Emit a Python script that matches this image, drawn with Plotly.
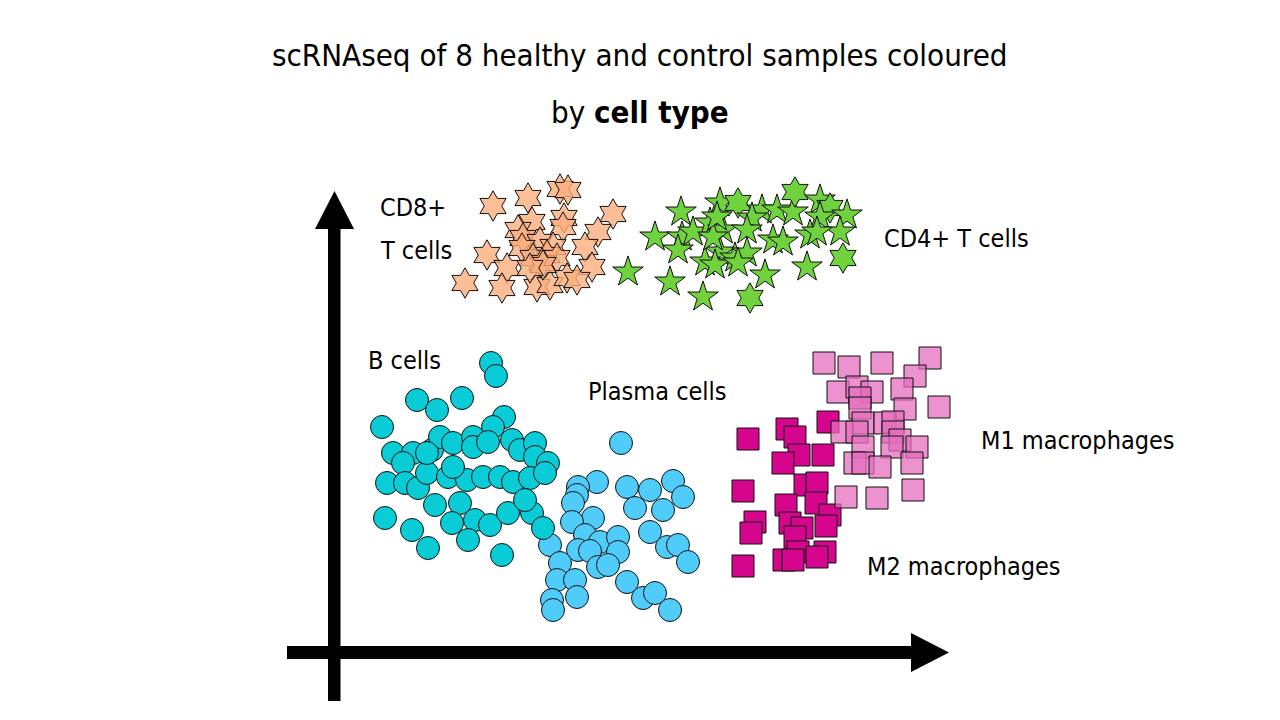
import plotly.graph_objects as go

# ---- data (embedding coordinates, arbitrary units) ----
cd8_x = [15.9, 19.4, 22.6, 23.4, 27.9, 23.0, 22.9, 19.8, 18.4, 18.9, 26.4, 20.6, 15.3, 18.8, 21.9,
         21.3, 19.9, 20.8, 22.3, 25.1, 25.8, 17.3, 13.1, 16.8, 20.3, 21.6, 23.3, 24.3, 20.9, 19.6]
cd8_y = [44.6, 45.4, 46.3, 46.2, 43.8, 43.4, 42.5, 43.0, 42.2, 41.4, 42.0, 41.0, 39.7, 40.4, 40.5,
         39.7, 39.4, 38.9, 39.4, 40.5, 38.5, 38.4, 36.9, 36.4, 36.5, 36.7, 37.4, 37.2, 38.7, 38.4]

cd4_x = [34.7, 32.1, 29.4, 33.6, 36.9, 41.6, 34.8, 34.4, 35.9, 37.6, 38.9, 38.6, 40.4, 42.8, 41.8,
         41.3, 44.3, 45.9, 46.1, 48.6, 49.6, 48.6, 51.3, 50.6, 47.6, 48.3, 43.9, 44.9, 38.6, 40.1,
         41.3, 37.1, 38.1, 40.4, 47.3, 43.1, 50.9, 37.9, 38.3]
cd4_y = [44.0, 41.5, 38.0, 37.0, 35.5, 35.4, 41.5, 40.2, 42.0, 42.9, 42.2, 44.9, 44.9, 44.2, 43.4,
         42.2, 44.2, 44.0, 46.0, 45.2, 44.4, 43.5, 43.7, 42.0, 41.7, 42.0, 41.2, 41.0, 40.0, 39.4,
         39.9, 39.0, 38.7, 38.9, 38.5, 37.7, 39.4, 41.5, 43.5]
cd4_shape = ["star"] * 5 + ["hexagram"] + ["star"] * 6 + ["hexagram"] + ["star"] * 5 + ["hexagram", "star", "hexagram"] + \
            ["star"] * 15 + ["hexagram", "star", "star"]

b_x = [15.7, 16.2, 8.3, 10.3, 12.8, 4.8, 17.0, 15.9, 5.9, 7.9, 9.8, 10.6, 11.9, 13.9, 13.9, 15.4, 17.8,
       18.6, 20.1, 20.1, 21.4, 6.9, 5.3, 7.1, 8.4, 9.3, 11.4, 13.3, 14.9, 16.6, 17.9, 19.6, 21.1, 11.9,
       10.1, 12.6, 5.1, 7.8, 9.4, 11.8, 14.1, 15.6, 17.4, 19.8, 13.4, 16.8, 20.9, 19.1, 9.3]
b_y = [28.9, 27.6, 25.2, 24.2, 25.4, 22.5, 23.5, 22.5, 19.9, 19.9, 20.2, 21.5, 20.9, 21.5, 20.5, 21.0, 21.2,
       20.2, 20.9, 19.5, 18.9, 18.9, 16.9, 16.9, 16.4, 17.9, 17.5, 17.2, 17.5, 17.5, 17.0, 17.4, 17.9, 18.5,
       14.7, 14.9, 13.4, 12.2, 10.4, 12.9, 13.2, 12.7, 13.9, 13.9, 11.2, 9.7, 12.4, 15.2, 19.9]

plasma_x = [28.7, 26.3, 24.4, 29.3, 31.6, 33.9, 34.9, 24.3, 23.9, 30.1, 32.9, 25.9, 23.8, 31.6, 25.1,
            26.6, 28.4, 24.4, 25.6, 28.4, 33.3, 34.4, 35.4, 21.6, 22.6, 26.4, 27.4, 29.3, 22.3, 24.1,
            24.3, 21.8, 21.9, 30.9, 32.1, 33.6]
plasma_y = [20.9, 17.0, 16.5, 16.5, 16.2, 17.1, 15.5, 15.7, 14.9, 14.4, 14.2, 13.4, 13.0, 12.0, 11.7,
            11.0, 11.5, 10.2, 10.1, 10.0, 10.5, 10.7, 9.0, 10.7, 8.9, 8.5, 8.7, 7.0, 7.2, 7.2,
            5.5, 5.2, 4.2, 5.4, 5.9, 4.2]

m2_x = [41.4, 45.3, 46.1, 49.4, 46.5, 44.9, 48.9, 40.9, 47.1, 48.3, 45.2, 48.2, 49.6, 42.1, 41.7,
        45.6, 46.8, 49.2, 46.1, 40.9, 45.0, 46.4, 49.1, 48.3, 45.9]
m2_y = [21.3, 22.3, 21.5, 23.0, 19.7, 18.9, 19.7, 16.1, 16.7, 16.9, 14.7, 14.9, 13.7, 13.0, 11.9,
        12.9, 12.4, 12.6, 11.5, 8.6, 9.2, 10.0, 10.0, 9.5, 9.2]

m1_x = [49.0, 51.5, 54.8, 59.6, 58.1, 50.4, 52.3, 53.8, 56.8, 52.6, 57.1, 60.5, 52.6, 52.9, 55.1,
        55.9, 50.8, 52.3, 55.9, 56.6, 58.3, 52.9, 55.8, 52.1, 52.9, 54.6, 57.8, 51.2, 54.3, 57.9]
m1_y = [28.9, 28.5, 28.9, 29.4, 27.6, 26.0, 26.5, 26.0, 26.3, 25.4, 24.3, 24.5, 24.4, 22.9, 22.9,
        23.0, 22.0, 22.0, 22.0, 21.2, 20.5, 20.5, 20.5, 18.9, 18.9, 18.5, 18.9, 15.5, 15.4, 16.2]

labels = ["CD8+", "T cells", "CD4+ T cells", "B cells", "Plasma cells", "M1 macrophages", "M2 macrophages"]
label_x = [4.4, 4.4, 54.8, 3.2, 25.2, 64.5, 53.1]
label_y = [44.5, 40.2, 41.4, 29.2, 26.1, 21.2, 8.6]

title_line1 = "scRNAseq of 8 healthy and control samples coloured"
title_line2 = "by <b>cell type</b>"

FONT = "DejaVu Sans Condensed, Liberation Sans Narrow, sans-serif"

# page has an 8px body margin: compensate so the picture lands where intended
OFF = 8
W, H = 1280, 720
x0_px, y0_px = 334 - OFF, 652 - OFF   # pixel position of the data origin within the figure
SCALE = 10.0                           # pixels per data unit

fig = go.Figure()
line = dict(color="#111111", width=1)
fig.add_trace(go.Scatter(x=plasma_x, y=plasma_y, mode="markers", name="Plasma cells",
                         marker=dict(symbol="circle", size=23, color="#4FCCFA", line=line)))
fig.add_trace(go.Scatter(x=b_x, y=b_y, mode="markers", name="B cells",
                         marker=dict(symbol="circle", size=23, color="#0ACCD6", line=line)))
fig.add_trace(go.Scatter(x=m2_x, y=m2_y, mode="markers", name="M2 macrophages",
                         marker=dict(symbol="square", size=22, color="#D5058E", line=line)))
fig.add_trace(go.Scatter(x=m1_x, y=m1_y, mode="markers", name="M1 macrophages",
                         marker=dict(symbol="square", size=22, color="rgba(230,110,190,0.75)", line=line)))
fig.add_trace(go.Scatter(x=cd8_x, y=cd8_y, mode="markers", name="CD8+ T cells",
                         marker=dict(symbol="hexagram", size=23, color="rgba(251,174,124,0.8)", line=line)))
fig.add_trace(go.Scatter(x=cd4_x, y=cd4_y, mode="markers", name="CD4+ T cells",
                         marker=dict(symbol=cd4_shape, size=23, color="#70D33E", line=line)))

for t, x, y in zip(labels, label_x, label_y):
    fig.add_annotation(x=x, y=y, text=t, showarrow=False, xanchor="left", yanchor="middle",
                       align="left", font=dict(family=FONT, size=25, color="#000000"))

fig.add_annotation(x=(640 - OFF) / W, y=1 - (55 - OFF) / H, xref="paper", yref="paper", text=title_line1,
                   showarrow=False, xanchor="center", yanchor="middle",
                   font=dict(family=FONT, size=31, color="#000000"))
fig.add_annotation(x=(640 - OFF) / W, y=1 - (112 - OFF) / H, xref="paper", yref="paper", text=title_line2,
                   showarrow=False, xanchor="center", yanchor="middle",
                   font=dict(family=FONT, size=31, color="#000000"))

# axis arrows
arrow = dict(type="path", fillcolor="black", line=dict(width=0), layer="below")
fig.add_shape(path="M -0.6,-4.9 L 0.65,-4.9 L 0.65,42.3 L -0.6,42.3 Z", **arrow)
fig.add_shape(path="M -1.9,42.3 L 2.0,42.3 L 0.05,46.1 Z", **arrow)
fig.add_shape(path="M -4.7,-0.7 L 57.7,-0.7 L 57.7,0.6 L -4.7,0.6 Z", **arrow)
fig.add_shape(path="M 57.7,-2.0 L 57.7,1.9 L 61.5,-0.05 Z", **arrow)

fig.update_layout(
    width=W, height=H, margin=dict(l=0, r=0, t=0, b=0, pad=0),
    paper_bgcolor="white", plot_bgcolor="white", showlegend=False,
    xaxis=dict(range=[-x0_px / SCALE, (W - x0_px) / SCALE], visible=False, fixedrange=True),
    yaxis=dict(range=[-(H - y0_px) / SCALE, y0_px / SCALE], visible=False, fixedrange=True),
)
fig.write_html("out.html")
